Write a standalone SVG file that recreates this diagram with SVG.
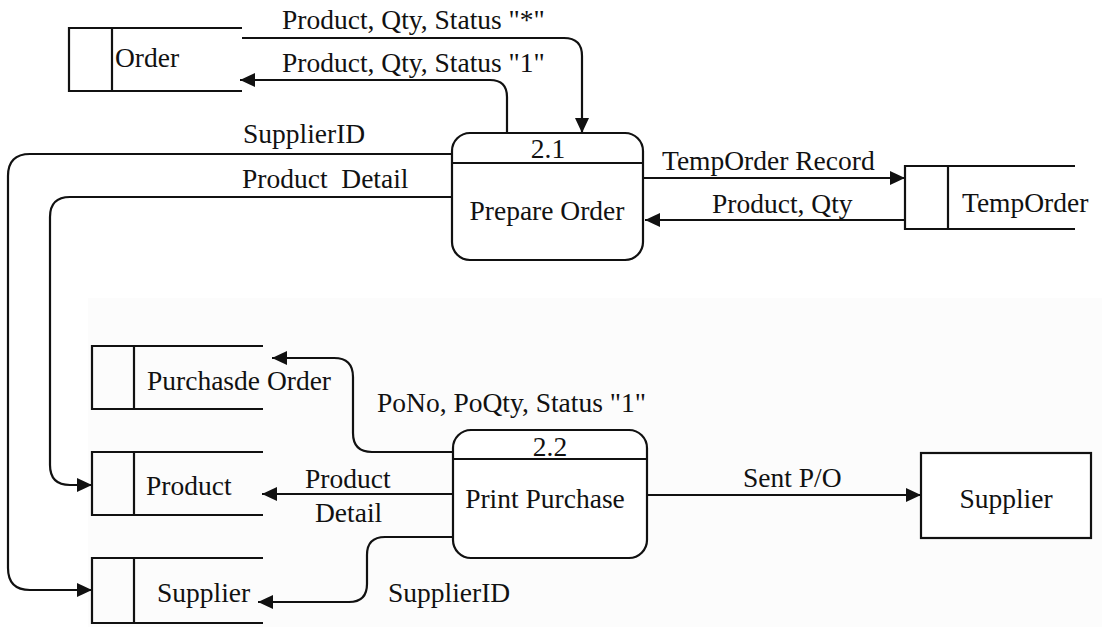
<svg xmlns="http://www.w3.org/2000/svg" width="1102" height="627" viewBox="0 0 1102 627">
  <style>
    .ln { fill: none; stroke: #111; stroke-width: 2.2; }
    .box { fill: #fff; stroke: #111; stroke-width: 2.2; }
    .t { font-family: "Liberation Serif", "Times New Roman", "DejaVu Serif", serif; font-size: 27.5px; fill: #111; }
    .c { text-anchor: middle; }
  </style>
  <defs>
    <marker id="arrow" markerWidth="16" markerHeight="14" refX="15" refY="7" orient="auto" markerUnits="userSpaceOnUse">
      <path d="M0,0 L15,7 L0,14 Z" fill="#111"/>
    </marker>
  </defs>

  <rect x="0" y="0" width="1102" height="627" fill="#fff"/>
  <!-- faint paper tint on the lower area -->
  <rect x="88" y="298" width="1014" height="329" fill="#fcfcfc"/>

  <!-- data flows -->
  <g id="connectors">
    <!-- Order -> 2.1 -->
    <path class="ln" d="M242,38 H564 Q582,38 582,56 V133" marker-end="url(#arrow)"/>
    <text class="t" x="282" y="29">Product, Qty, Status "*"</text>
    <!-- 2.1 -> Order -->
    <path class="ln" d="M507,133 V97 Q507,80 490,80 H240" marker-end="url(#arrow)"/>
    <text class="t" x="282" y="72">Product, Qty, Status "1"</text>
    <!-- 2.1 -> Supplier store -->
    <path class="ln" d="M452,154 H30 Q8,154 8,176 V568 Q8,590 30,590 H92" marker-end="url(#arrow)"/>
    <text class="t" x="243" y="143">SupplierID</text>
    <!-- 2.1 -> Product store -->
    <path class="ln" d="M452,197 H70 Q50,197 50,217 V465 Q50,485 70,485 H92" marker-end="url(#arrow)"/>
    <text class="t" x="242" y="188" xml:space="preserve">Product  Detail</text>
    <!-- 2.1 -> TempOrder -->
    <path class="ln" d="M643,178 H905" marker-end="url(#arrow)"/>
    <text class="t" x="662" y="170">TempOrder Record</text>
    <!-- TempOrder -> 2.1 -->
    <path class="ln" d="M905,220 H645" marker-end="url(#arrow)"/>
    <text class="t" x="712" y="213">Product, Qty</text>
    <!-- 2.2 -> Purchasde Order -->
    <path class="ln" d="M453,452 H372 Q353,452 353,433 V377 Q353,358 334,358 H272" marker-end="url(#arrow)"/>
    <text class="t" x="377" y="412">PoNo, PoQty, Status "1"</text>
    <!-- 2.2 -> Product store -->
    <path class="ln" d="M453,494 H262" marker-end="url(#arrow)"/>
    <text class="t" x="305" y="488">Product</text>
    <text class="t" x="315" y="522">Detail</text>
    <!-- 2.2 -> Supplier store -->
    <path class="ln" d="M453,537 H385 Q367,537 367,555 V584 Q367,602 349,602 H258" marker-end="url(#arrow)"/>
    <text class="t" x="388" y="602">SupplierID</text>
    <!-- 2.2 -> Supplier entity -->
    <path class="ln" d="M647,495 H921" marker-end="url(#arrow)"/>
    <text class="t" x="743" y="487">Sent P/O</text>
  </g>

  <!-- data stores -->
  <g id="store-order">
    <path class="ln" d="M242,28 H69 V91 H242 M112,28 V91"/>
    <text class="t" x="115" y="67">Order</text>
  </g>
  <g id="store-temporder">
    <path class="ln" d="M1075,166 H905 V229 H1075 M948,166 V229"/>
    <text class="t" x="962" y="212">TempOrder</text>
  </g>
  <g id="store-purchase-order">
    <path class="ln" d="M263,346 H92 V409 H263 M134,346 V409"/>
    <text class="t" x="147" y="390">Purchasde Order</text>
  </g>
  <g id="store-product">
    <path class="ln" d="M263,452 H92 V515 H263 M134,452 V515"/>
    <text class="t" x="146" y="495">Product</text>
  </g>
  <g id="store-supplier">
    <path class="ln" d="M263,558 H92 V623 H263 M134,558 V623"/>
    <text class="t" x="157" y="602">Supplier</text>
  </g>

  <!-- processes -->
  <g id="process-2-1">
    <rect class="box" x="452" y="133" width="191" height="127" rx="18" ry="18"/>
    <line class="ln" x1="452" y1="163" x2="643" y2="163"/>
    <text class="t c" x="548" y="158">2.1</text>
    <text class="t c" x="547" y="220">Prepare Order</text>
  </g>
  <g id="process-2-2">
    <rect class="box" x="453" y="430" width="194" height="128" rx="18" ry="18"/>
    <line class="ln" x1="453" y1="459" x2="647" y2="459"/>
    <text class="t c" x="550" y="456">2.2</text>
    <text class="t c" x="545" y="508">Print Purchase</text>
  </g>

  <!-- external entity -->
  <g id="entity-supplier">
    <rect class="box" x="921" y="453" width="170" height="85"/>
    <text class="t c" x="1006" y="508">Supplier</text>
  </g>
</svg>
